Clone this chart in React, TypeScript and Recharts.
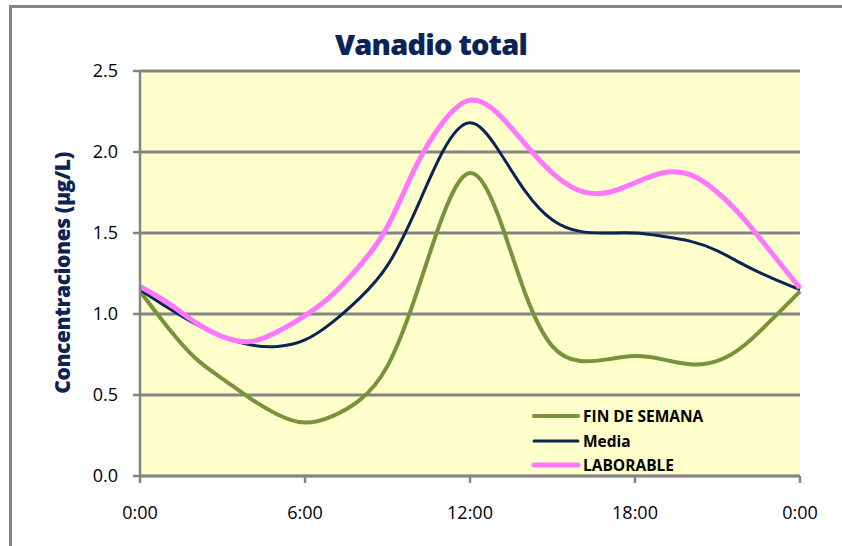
import { LineChart, Line, XAxis, YAxis, CartesianGrid, Legend } from 'recharts'

const hours = [0, 1, 2, 3, 4, 5, 6, 7, 8, 9, 10, 11, 12, 13, 14, 15, 16, 17, 18, 19, 20, 21, 22, 23, 24]

const finDeSemana = [1.14, 0.92, 0.73, 0.6, 0.48, 0.38, 0.33, 0.37, 0.47, 0.68, 1.1, 1.6, 1.87, 1.62, 1.13, 0.8, 0.71, 0.72, 0.74, 0.72, 0.69, 0.71, 0.81, 0.97, 1.14]
const media = [1.15, 1.04, 0.94, 0.86, 0.81, 0.8, 0.84, 0.95, 1.1, 1.3, 1.63, 2.0, 2.18, 2.02, 1.76, 1.58, 1.51, 1.5, 1.5, 1.48, 1.45, 1.39, 1.3, 1.22, 1.15]
const laborable = [1.17, 1.07, 0.95, 0.86, 0.83, 0.89, 0.99, 1.12, 1.3, 1.54, 1.9, 2.18, 2.32, 2.24, 2.05, 1.87, 1.76, 1.75, 1.81, 1.87, 1.86, 1.75, 1.58, 1.37, 1.16]

const seriesNames = ['FIN DE SEMANA', 'Media', 'LABORABLE']
const seriesColors = ['#77933c', '#0c2356', '#ff77ff']
const seriesWidths = [4, 3, 5]

const xTicks = [0, 6, 12, 18, 24]
const xTickLabels = ['0:00', '6:00', '12:00', '18:00', '0:00']
const yTicks = [0, 0.5, 1, 1.5, 2, 2.5]

const data = hours.map((h, i) => ({
  hour: h,
  fin: finDeSemana[i],
  media: media[i],
  lab: laborable[i],
}))
const keys = ['fin', 'media', 'lab']

const font = "'Open Sans', sans-serif"
const gray = '#848484'

function LegendBox(props: any) {
  const payload = [...(props.payload || [])].sort(
    (a: any, b: any) => seriesNames.indexOf(a.value) - seriesNames.indexOf(b.value)
  )
  return (
    <div style={{ fontFamily: font }}>
      {payload.map((entry: any) => {
        const i = seriesNames.indexOf(entry.value)
        return (
          <div
            key={entry.value}
            style={{ display: 'flex', alignItems: 'center', height: 24.5 }}
          >
            <svg width={52} height={10}>
              <line
                x1={3}
                x2={47}
                y1={5}
                y2={5}
                stroke={seriesColors[i]}
                strokeWidth={seriesWidths[i]}
                strokeLinecap="round"
              />
            </svg>
            <span style={{ fontWeight: 700, fontSize: 15.5, color: '#000' }}>
              {entry.value}
            </span>
          </div>
        )
      })}
    </div>
  )
}

export default function App() {
  return (
    <div
      style={{
        position: 'absolute',
        left: 0,
        top: 0,
        width: 842,
        height: 546,
        overflow: 'hidden',
        background: '#fff',
      }}
    >
      <div
        style={{
          position: 'absolute',
          left: 9,
          top: 5,
          width: 900,
          height: 600,
          borderLeft: `3px solid ${gray}`,
          borderTop: `3px solid ${gray}`,
        }}
      />
      <div
        style={{
          position: 'absolute',
          left: 0,
          width: 862,
          top: 24,
          textAlign: 'center',
          fontFamily: font,
          fontWeight: 800,
          fontSize: 29,
          letterSpacing: -0.8,
          color: '#0c2356',
        }}
      >
        Vanadio total
      </div>
      <div
        style={{
          position: 'absolute',
          left: 62,
          top: 273,
          transform: 'translate(-50%, -50%) rotate(-90deg)',
          whiteSpace: 'nowrap',
          fontFamily: font,
          fontWeight: 800,
          fontSize: 21,
          letterSpacing: -0.4,
          color: '#0c2356',
        }}
      >
        Concentraciones (µg/L)
      </div>
      <div style={{ position: 'absolute', left: 0, top: 0 }}>
        <LineChart
          width={842}
          height={546}
          data={data}
          margin={{ top: 71, right: 42, bottom: 20, left: 0 }}
        >
          <CartesianGrid
            vertical={false}
            horizontal
            fill="#ffffcc"
            stroke={gray}
            strokeWidth={3}
            horizontalValues={yTicks}
          />
          <XAxis
            dataKey="hour"
            type="number"
            domain={[0, 24]}
            ticks={xTicks}
            tickFormatter={(v: number) => xTickLabels[xTicks.indexOf(v)]}
            height={50}
            interval={0}
            stroke={gray}
            strokeWidth={2.5}
            tickSize={7}
            tickMargin={23}
            tick={{ fill: '#000', fontSize: 18, fontFamily: font }}
          />
          <YAxis
            type="number"
            domain={[0, 2.5]}
            ticks={yTicks}
            tickFormatter={(v: number) => v.toFixed(1)}
            width={140}
            interval={0}
            stroke={gray}
            strokeWidth={2.5}
            tickSize={7}
            tickMargin={15}
            tick={{ fill: '#000', fontSize: 18, fontFamily: font }}
          />
          {keys.map((k, i) => (
            <Line
              key={k}
              dataKey={k}
              name={seriesNames[i]}
              type="natural"
              stroke={seriesColors[i]}
              strokeWidth={seriesWidths[i]}
              dot={false}
              activeDot={false}
              isAnimationActive={false}
            />
          ))}
          <Legend
            layout="vertical"
            align="center"
            verticalAlign="middle"
            content={<LegendBox />}
            wrapperStyle={{ left: 531, top: 404, width: 220 }}
          />
        </LineChart>
      </div>
    </div>
  )
}
